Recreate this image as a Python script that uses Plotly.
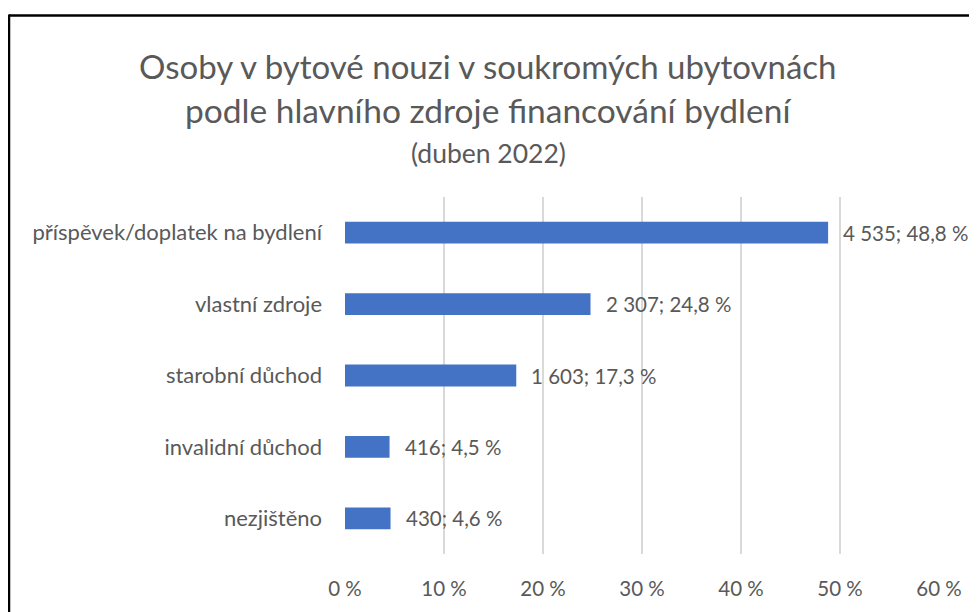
import plotly.graph_objects as go

categories = ["příspěvek/doplatek na bydlení", "vlastní zdroje", "starobní důchod",
              "invalidní důchod", "nezjištěno"]
counts = [4535, 2307, 1603, 416, 430]
percents = [48.8, 24.8, 17.3, 4.5, 4.6]
count_labels = ["4 535", "2 307", "1 603", "416", "430"]
pct_labels = ["48,8 %", "24,8 %", "17,3 %", "4,5 %", "4,6 %"]
x_ticks = [0, 10, 20, 30, 40, 50, 60]
x_tick_labels = ["0 %", "10 %", "20 %", "30 %", "40 %", "50 %", "60 %"]

title_lines = ["Osoby v bytové nouzi v soukromých ubytovnách",
               "podle hlavního zdroje financování bydlení",
               "(duben 2022)"]

FONT = "Lato"
GREY = "#595959"
OFF = 8  # page body margin of the html page
W, H = 977 - OFF, 612 - OFF
L, R, T, B = 345 - OFF, 38, 197 - OFF, 55
pw, ph = W - L - R, H - T - B

fig = go.Figure()
fig.add_trace(go.Bar(
    x=percents, y=categories, orientation="h",
    marker=dict(color="#4472C4", line=dict(width=0)),
    hoverinfo="skip",
))

annotations = []
for c, p, cl, pl in zip(categories, percents, count_labels, pct_labels):
    annotations.append(dict(
        x=p, y=c, xref="x", yref="y", text=f"{cl}; {pl}", showarrow=False,
        xanchor="left", yanchor="middle", xshift=13,
        font=dict(family=FONT, size=20.5, color=GREY),
    ))

def py(ypix):
    return 1 - (ypix - OFF - T) / ph

def px(xpix):
    return (xpix - OFF - L) / pw

title_y = [65, 109, 153]
title_sizes = [33, 33.5, 26.5]
for line, yy, sz in zip(title_lines, title_y, title_sizes):
    annotations.append(dict(
        x=px(488), y=py(yy), xref="paper", yref="paper", text=line,
        showarrow=False, xanchor="center", yanchor="middle",
        font=dict(family=FONT, size=sz, color=GREY),
    ))

shapes = [
    dict(type="line", xref="paper", yref="paper", x0=px(9), x1=px(990),
         y0=py(14), y1=py(14), line=dict(color="black", width=2.5)),
    dict(type="line", xref="paper", yref="paper", x0=px(9), x1=px(9),
         y0=py(13), y1=py(630), line=dict(color="black", width=2.5)),
]

fig.update_layout(
    width=W, height=H,
    margin=dict(l=L, r=R, t=T, b=B),
    paper_bgcolor="white", plot_bgcolor="white",
    bargap=0.694,
    showlegend=False,
    annotations=annotations,
    shapes=shapes,
    font=dict(family=FONT, color=GREY),
)
fig.update_xaxes(
    range=[0, 60], tickvals=x_ticks, ticktext=x_tick_labels,
    showgrid=True, gridcolor="#d9d9d9", gridwidth=1.5,
    zeroline=False, showline=False,
    tickfont=dict(family=FONT, size=20.5, color=GREY),
    ticks="", ticklabelstandoff=20, fixedrange=True,
)
fig.update_yaxes(
    categoryorder="array", categoryarray=categories, autorange="reversed",
    showgrid=False, zeroline=False, showline=False,
    tickfont=dict(family=FONT, size=22, color=GREY),
    ticks="", ticklabelstandoff=22, fixedrange=True,
)

fig.write_html("out.html", config={"displayModeBar": False})
